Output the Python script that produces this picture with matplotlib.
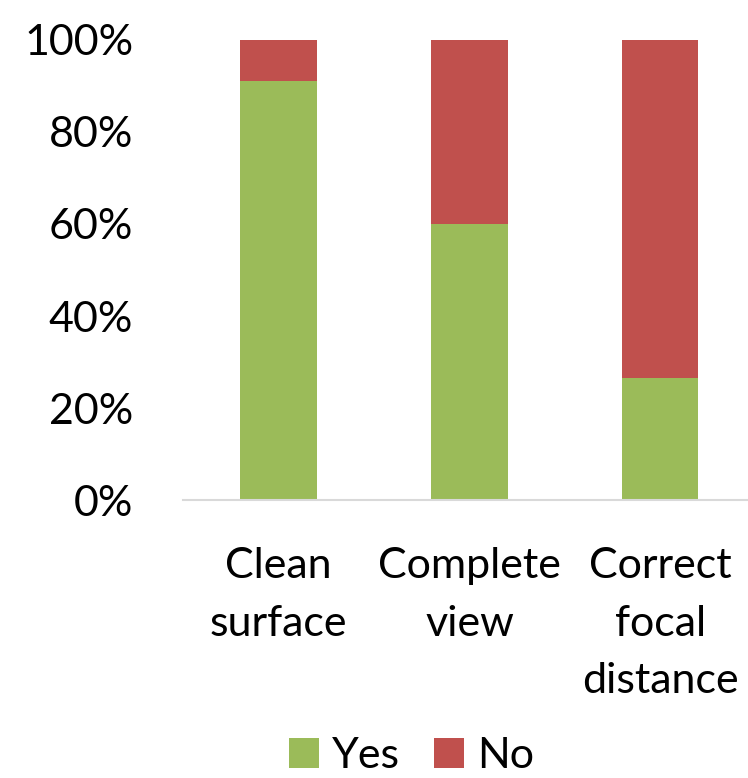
import matplotlib
matplotlib.use('Agg')
import matplotlib.pyplot as plt
from matplotlib.ticker import PercentFormatter

plt.rcParams['font.family'] = ['Lato', 'DejaVu Sans']

categories = ['Clean\nsurface', 'Complete\nview', 'Correct\nfocal\ndistance']
yes_vals = [91, 60, 26.5]
no_vals = [9, 40, 73.5]

fig = plt.figure(figsize=(7.48, 7.78), dpi=100)
ax = fig.add_axes([0.245, 0.357, 0.755, 0.592])

x = range(len(categories))
ax.bar(x, yes_vals, width=0.4, color='#9BBB59', label='Yes')
ax.bar(x, no_vals, width=0.4, bottom=yes_vals, color='#C0504D', label='No')

ax.set_xlim(-0.5, 2.46)
ax.set_ylim(0, 100)
ax.set_yticks([0, 20, 40, 60, 80, 100])
ax.yaxis.set_major_formatter(PercentFormatter(decimals=0))
ax.set_xticks(list(x))
ax.set_xticklabels(categories, linespacing=1.62)
ax.tick_params(axis='both', length=0, labelsize=31)
ax.tick_params(axis='y', pad=36)
ax.tick_params(axis='x', pad=34)

for s in ['top', 'right', 'left']:
    ax.spines[s].set_visible(False)
ax.spines['bottom'].set_color('#D9D9D9')
ax.spines['bottom'].set_linewidth(1.5)

fig.legend(loc='lower center', bbox_to_anchor=(0.55, -0.046), ncol=2, frameon=False,
           fontsize=31, handlelength=0.7, handleheight=0.7, handletextpad=0.3,
           columnspacing=0.8)

fig.savefig('out.png', dpi=100)
